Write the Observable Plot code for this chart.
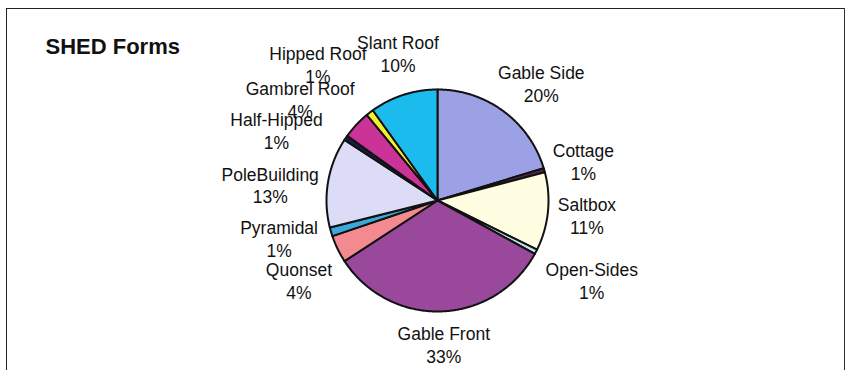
<!DOCTYPE html>
<html><head><meta charset="utf-8">
<script src="https://cdn.jsdelivr.net/npm/d3@7"></script>
<script src="https://cdn.jsdelivr.net/npm/@observablehq/plot@0.6"></script>
<style>
body{margin:0;background:#fff;}
#wrap{position:relative;width:850px;height:370px;overflow:hidden;}
#chart{position:absolute;left:0;top:0;}
#frame{position:absolute;left:6px;top:8px;width:839px;height:380px;box-sizing:border-box;border-left:1.5px solid #222;border-top:1.5px solid #222;border-right:1.5px solid #333;pointer-events:none;}
</style></head><body>
<div id="wrap"><div id="chart"></div><div id="frame"></div></div>
<script>
// ---- data ----
const title = "SHED Forms";
const categories = ["Gable Side","Cottage","Saltbox","Open-Sides","Gable Front","Quonset","Pyramidal","PoleBuilding","Half-Hipped","Gambrel Roof","Hipped Roof","Slant Roof"];
const shares = [20.3, 0.6, 11.4, 0.7, 32.8, 4.0, 1.3, 13.1, 0.7, 4.1, 1.1, 9.9];
const sliceColors = ["#9ca1e6","#5a2448","#fffde2","#bfe9ec","#9a489c","#f28a8f","#3aa8d8","#dcdcf6","#1a1a50","#cc3399","#f5f02e","#1cbbee"];

// ---- layout (pixels) ----
const W = 850, H = 370, CX = 437, CY = 200, R = 111;
const FS = 17.5, LINE = 23, GAP = 10;
// small label adjustments (px) to mimic the original overlap placement
const labelShift = {
  "Gable Side":[6,-2], "Open-Sides":[6,13], "Quonset":[0,17], "Pyramidal":[-5,-3],
  "PoleBuilding":[0,8], "Half-Hipped":[-23,11], "Gambrel Roof":[-9,-3],
  "Hipped Roof":[-16,-22], "Slant Roof":[10,-10]
};

const total = d3.sum(shares);
const arcs = d3.pie().sort(null).value(d => d)(shares);

const pts = [];
arcs.forEach((a, i) => {
  const cat = categories[i];
  const n = Math.max(2, Math.ceil((a.endAngle - a.startAngle) / (Math.PI / 360)));
  pts.push({cat, x: 0, y: 0});
  for (let k = 0; k <= n; k++) {
    const t = a.startAngle + (a.endAngle - a.startAngle) * k / n;
    pts.push({cat, x: Math.sin(t), y: Math.cos(t)});
  }
  pts.push({cat, x: 0, y: 0});
});

const ctx = document.createElement("canvas").getContext("2d");
ctx.font = `${FS}px "Liberation Sans", Arial, sans-serif`;
const labels = arcs.map((a, i) => {
  const cat = categories[i];
  const pct = Math.round(shares[i] / total * 100) + "%";
  const w = Math.max(ctx.measureText(cat).width, ctx.measureText(pct).width);
  const h = LINE * 2;
  const m = (a.startAngle + a.endAngle) / 2;
  const ux = Math.sin(m), uy = Math.cos(m);
  const s = labelShift[cat] || [0, 0];
  const px = ux * (R + GAP) + ux * w / 2 + s[0];
  const py = uy * (R + GAP) + uy * h / 2 - s[1];
  return {cat, text: cat + "\n" + pct, x: px / R, y: py / R};
});

const chart = Plot.plot({
  width: W, height: H, margin: 0,
  x: {domain: [-CX / R, (W - CX) / R], axis: null},
  y: {domain: [-(H - CY) / R, CY / R], axis: null},
  color: {domain: categories, range: sliceColors},
  style: {background: "transparent", fontFamily: '"Liberation Sans", Arial, sans-serif'},
  marks: [
    Plot.line(pts, {x: "x", y: "y", z: "cat", fill: "cat", stroke: "#111", strokeWidth: 2, strokeLinejoin: "round"}),
    Plot.text(labels, {x: "x", y: "y", text: "text", fontSize: FS, lineHeight: LINE / FS, textAnchor: "middle", lineAnchor: "middle", fill: "#111"}),
    Plot.text([title], {frameAnchor: "top-left", dx: 45, dy: 46, text: d => d, fontSize: 22, fontWeight: "bold", textAnchor: "start", lineAnchor: "middle", fill: "#111"})
  ]
});
document.getElementById("chart").appendChild(chart);
</script>
</body></html>
